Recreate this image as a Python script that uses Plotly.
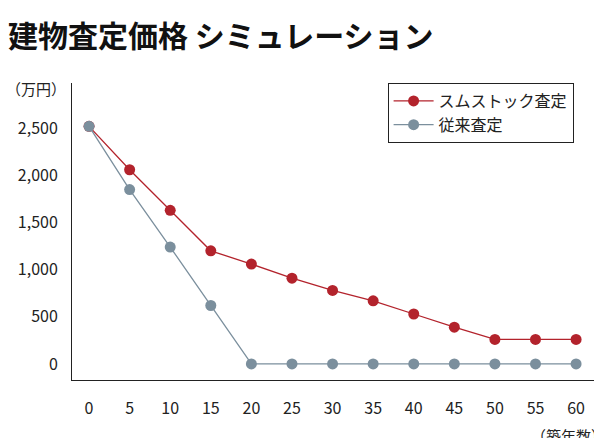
import plotly.graph_objects as go

years = [0, 5, 10, 15, 20, 25, 30, 35, 40, 45, 50, 55, 60]
stock = [2520, 2060, 1630, 1200, 1060, 910, 780, 670, 530, 390, 260, 260, 260]
conventional = [2520, 1850, 1240, 620, 0, 0, 0, 0, 0, 0, 0, 0, 0]
y_ticks = [0, 500, 1000, 1500, 2000, 2500]
y_labels = ["0", "500", "1,000", "1,500", "2,000", "2,500"]

font = "Noto Sans CJK JP"
red = "#b3232c"
gray = "#7b8f9d"

fig = go.Figure()
fig.add_trace(go.Scatter(x=years, y=stock, name="スムストック査定", mode="lines+markers",
                         line=dict(color=red, width=1.3), marker=dict(size=11, color=red)))
fig.add_trace(go.Scatter(x=years, y=conventional, name="従来査定", mode="lines+markers",
                         line=dict(color=gray, width=1.3), marker=dict(size=11, color=gray)))

fig.update_layout(
    width=602, height=438, plot_bgcolor="white", paper_bgcolor="white",
    margin=dict(l=64, r=12, t=75, b=66, autoexpand=False),
    font=dict(family=font, size=16, color="#222"),
    showlegend=True,
    legend=dict(x=0.6, y=1.0, xanchor="left", yanchor="top", bordercolor="#222",
                borderwidth=1, bgcolor="white", font=dict(size=16), itemwidth=40,
                tracegroupgap=4),
    xaxis=dict(range=[-2.1, 62.7], tickvals=years, showgrid=False, zeroline=False,
               showline=True, linecolor="#222", linewidth=1, ticks="", ticklabelstandoff=14,
               automargin=False),
    yaxis=dict(range=[-170, 2980], tickvals=y_ticks, ticktext=y_labels, showgrid=False,
               zeroline=False, showline=True, linecolor="#222", linewidth=1, ticks="",
               ticklabelstandoff=10, automargin=False),
    annotations=[
        dict(text="<b>建物査定価格 シミュレーション</b>", x=0, y=1, xref="paper", yref="paper",
             xshift=-66, yshift=73, xanchor="left", yanchor="top", showarrow=False,
             font=dict(size=30, color="#111")),
        dict(text="（万円）", x=0, y=1, xref="paper", yref="paper", xshift=-68, yshift=-5,
             xanchor="left", yanchor="middle", showarrow=False, font=dict(size=15)),
        dict(text="（築年数）", x=1, y=0, xref="paper", yref="paper", xshift=10, yshift=-55,
             xanchor="right", yanchor="middle", showarrow=False, font=dict(size=15)),
    ],
)
fig.write_html("out.html")
